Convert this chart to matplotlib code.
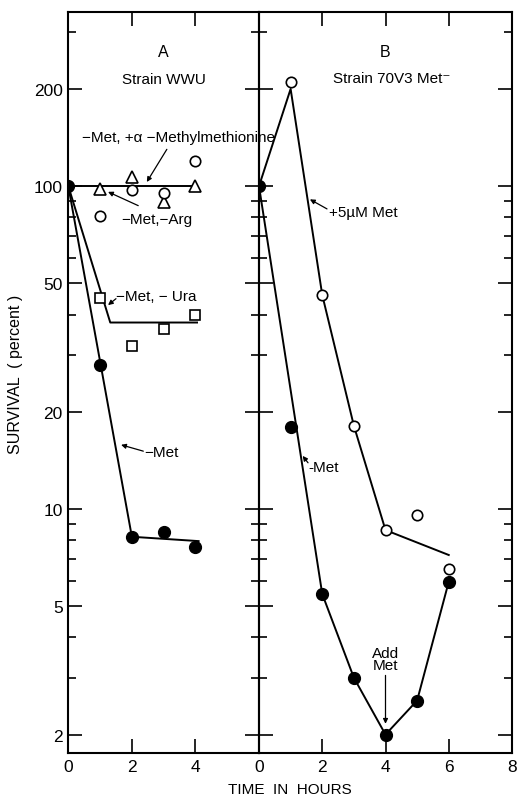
import matplotlib
matplotlib.use('Agg')
import matplotlib.pyplot as plt

plt.rcParams['font.family'] = ['Liberation Sans', 'DejaVu Sans']

# ---- panel A, strain WWU ----
hours_a = [0, 1, 2, 3, 4]
met_a = [100, 28, 8.2, 8.5, 7.6]          # -Met, filled circles
ura_x = [1, 2, 3, 4]
ura_a = [45, 32, 36, 40]                  # -Met,-Ura, squares
arg_x = [1, 2, 3, 4]
arg_a = [98, 107, 89, 100]                # -Met,-Arg, triangles
amm_x = [1, 2, 3, 4]
amm_a = [81, 97, 95.5, 120]               # -Met,+a-methylmethionine, open circles

# hand drawn lines of the paper
met_fit_x = [0, 2, 4.1]
met_fit_a = [100, 8.2, 7.95]
ura_fit_x = [0, 1.32, 4.05]
ura_fit_a = [100, 37.8, 37.8]
amm_fit_x = [0, 4.05]
amm_fit_a = [100, 100]

# ---- panel B, strain 70V3 Met- ----
hours_b = [0, 1, 2, 3, 4, 5, 6]
met_b = [100, 18, 5.45, 3.0, 2.0, 2.55, 5.95]
met_fit_x_b = [0, 2, 3, 4, 5, 6]
met_fit_b = [100, 5.45, 3.0, 2.0, 2.55, 5.95]
plus_x = [1, 2, 3, 4, 5, 6]
plus_b = [210, 46, 18.1, 8.6, 9.6, 6.5]   # +5uM Met, open circles
plus_fit_x = [0, 1, 2, 3, 4, 6]
plus_fit_b = [100, 200, 46, 18.1, 8.6, 7.2]

major_y = [2, 5, 10, 20, 50, 100, 200]
minor_y = [3, 4, 6, 7, 8, 9, 30, 40, 60, 70, 80, 90, 300]

W, H = 517, 804
fig = plt.figure(figsize=(W / 100, H / 100), dpi=100)
bot = 1 - 754.3 / H
hgt = (754.3 - 12.7) / H
axA = fig.add_axes([68.3 / W, bot, (259 - 68.3) / W, hgt])
axB = fig.add_axes([259 / W, bot, (512 - 259) / W, hgt])

lw = 1.4
for ax in (axA, axB):
    ax.set_yscale('log')
    ax.set_ylim(1.75, 347)
    ax.patch.set_visible(False)
    ax.set_yticks(major_y)
    ax.set_yticks(minor_y, minor=True)
    ax.set_yticklabels([str(v) for v in major_y])
    ax.yaxis.set_minor_formatter(plt.NullFormatter())
    ax.tick_params(which='both', direction='in', top=True, right=True,
                   width=1.2, labelsize=12.5, pad=4)
    ax.tick_params(which='major', length=10)
    ax.tick_params(which='minor', length=6)
    for s in ax.spines.values():
        s.set_linewidth(1.5)

axA.set_xlim(0, 6)
axA.set_xticks([0, 2, 4])
axB.set_xlim(0, 8)
axB.set_xticks([0, 2, 4, 6, 8])
axB.tick_params(labelleft=False)

fill = dict(marker='o', ms=8.5, mfc='k', mec='k', ls='none', zorder=4)
opn = dict(marker='o', ms=7.5, mfc='white', mec='k', mew=1.2, ls='none', zorder=4)

# panel A
axA.plot(met_fit_x, met_fit_a, 'k-', lw=lw)
axA.plot(ura_fit_x, ura_fit_a, 'k-', lw=lw)
axA.plot(amm_fit_x, amm_fit_a, 'k-', lw=lw)
axA.plot(hours_a, met_a, **fill)
axA.plot(ura_x, ura_a, marker='s', ms=7.5, mfc='white', mec='k', mew=1.2, ls='none', zorder=4)
axA.plot(arg_x, arg_a, marker='^', ms=8, mfc='white', mec='k', mew=1.2, ls='none', zorder=4)
axA.plot(amm_x, amm_a, **opn)

# panel B
axB.plot(met_fit_x_b, met_fit_b, 'k-', lw=lw)
axB.plot(plus_fit_x, plus_fit_b, 'k-', lw=lw)
axB.plot(plus_x, plus_b, **opn)
axB.plot(hours_b, met_b, **fill)

arr = dict(arrowstyle='-|>', lw=0.9, color='k', mutation_scale=7, shrinkA=0, shrinkB=0)
fs = 11

axA.text(3.0, 262, 'A', ha='center', va='center', fontsize=11.5)
axA.text(3.0, 215, 'Strain WWU', ha='center', va='center', fontsize=11)
axB.text(4.0, 262, 'B', ha='center', va='center', fontsize=11.5)
axB.text(4.2, 217, 'Strain 70V3 Met\u207b', ha='center', va='center', fontsize=11)

axA.text(0.42, 142, '\u2212Met, +\u03b1 \u2212Methylmethionine', ha='left', va='center',
         fontsize=fs, zorder=5)
axA.annotate('', xy=(2.47, 103), xytext=(3.1, 130), arrowprops=arr)

axA.annotate('\u2212Met,\u2212Arg', xy=(1.25, 96), xytext=(1.68, 79), ha='left', va='center',
             fontsize=fs)
axA.annotate('', xy=(1.25, 96), xytext=(2.2, 87), arrowprops=arr)

axA.text(1.5, 45.8, '\u2212Met, \u2212 Ura', ha='left', va='center', fontsize=fs)
axA.annotate('', xy=(1.25, 42.8), xytext=(1.5, 44.8), arrowprops=arr)

axA.text(2.4, 15.0, '\u2212Met', ha='left', va='center', fontsize=fs)
axA.annotate('', xy=(1.66, 15.8), xytext=(2.36, 15.1), arrowprops=arr)

axB.text(2.2, 83, '+5\u00b5M Met', ha='left', va='center', fontsize=fs)
axB.annotate('', xy=(1.61, 91), xytext=(2.15, 85), arrowprops=arr)

axB.text(1.55, 13.5, '-Met', ha='left', va='center', fontsize=fs)
axB.annotate('', xy=(1.38, 14.6), xytext=(1.55, 13.9), arrowprops=arr)

axB.text(4.0, 3.43, 'Add\nMet', ha='center', va='center', fontsize=fs, linespacing=0.9)
axB.annotate('', xy=(4.0, 2.16), xytext=(4.0, 3.05), arrowprops=arr)

fig.text(16 / W, 1 - 374 / H, 'SURVIVAL  ( percent )', rotation=90, ha='center',
         va='center', fontsize=11.5)
fig.text(290 / W, 1 - 790 / H, 'TIME  IN  HOURS', ha='center', va='center', fontsize=11)

fig.savefig('out.png', dpi=100)
